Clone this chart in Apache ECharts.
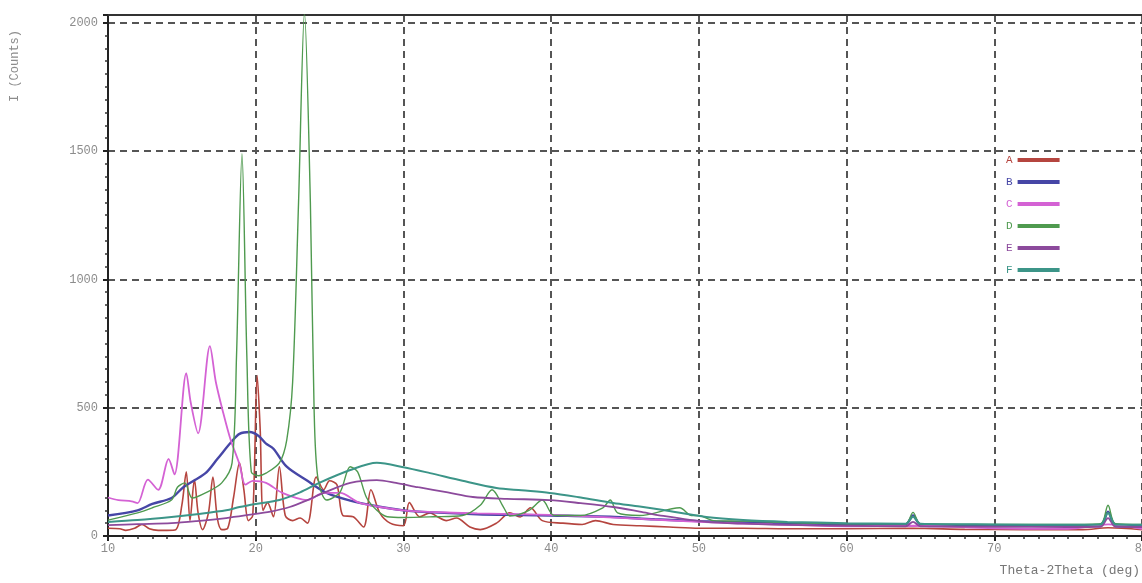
<!DOCTYPE html>
<html>
<head>
<meta charset="utf-8">
<title>XRD</title>
<script src="https://cdn.jsdelivr.net/npm/echarts@6/dist/echarts.min.js"></script>
<style>
  html, body { margin: 0; padding: 0; background: #fff; }
  #main { width: 1142px; height: 583px; }
</style>
</head>
<body>
<div id="main"></div>
<script>
// names of the samples
var seriesNames = ['A', 'B', 'C', 'D', 'E', 'F'];
var seriesColors = ['#b5453f', '#4646a6', '#d462d4', '#4f9a4f', '#8c4a9c', '#3c9588'];

// [2theta, counts]
var dataA = [[10,30],[10.8,28],[11.2,22],[11.8,30],[12.3,45],[12.8,28],[13.4,22],[14.0,22],[14.6,25],[15.0,120],[15.3,250],[15.55,60],[15.85,220],[16.1,90],[16.4,25],[16.8,90],[17.1,230],[17.4,70],[17.7,25],[18.1,30],[18.5,150],[18.9,285],[19.2,180],[19.5,60],[19.8,80],[20.1,625],[20.3,420],[20.5,100],[20.8,130],[21.2,75],[21.6,270],[22.0,80],[22.5,60],[23.0,70],[23.5,50],[24.1,230],[24.6,180],[25.0,215],[25.5,200],[25.9,80],[26.6,75],[27.3,35],[27.8,180],[28.4,90],[29.1,50],[30.0,40],[30.4,130],[31.1,75],[31.8,90],[32.3,75],[32.9,60],[33.6,70],[34.5,35],[35.2,25],[36.3,50],[37.2,90],[37.9,74],[38.6,110],[39.4,60],[40.8,50],[42.1,45],[43.0,60],[44.2,45],[46,40],[48,35],[50,30],[53,30],[56,28],[60,28],[64.5,30],[68,26],[72,25],[76,25],[77.7,32],[80,25]];
var dataB = [[10,80],[12,100],[13,125],[14.3,148],[15.1,190],[16.6,245],[17.4,300],[18.4,370],[18.9,398],[19.6,405],[20.2,390],[20.7,360],[21.2,340],[22.1,270],[23.5,215],[24.8,168],[26.4,138],[28,118],[30,100],[32,92],[35,85],[38,82],[40,80],[44,75],[47,65],[50,58],[55,50],[60,45],[64,45],[64.5,80],[65,45],[70,42],[75,40],[77.2,40],[77.7,95],[78.2,40],[80,38]];
var dataC = [[10,150],[10.7,140],[11.6,135],[12,128],[12.7,220],[13.4,180],[14.1,300],[14.5,240],[15.3,635],[15.6,520],[16.1,400],[16.9,740],[17.3,600],[17.8,480],[18.3,375],[18.9,280],[19.3,200],[19.8,215],[20.7,207],[21.8,168],[23.5,140],[24.6,168],[25.7,168],[27,130],[28.4,113],[30,100],[31.8,94],[35,88],[39.9,82],[45,70],[50,55],[55,45],[60,38],[64.5,40],[70,30],[75,28],[77.7,45],[80,28]];
var dataD = [[10,62],[12,90],[13,110],[14.3,140],[14.7,190],[15.2,207],[15.7,148],[16.6,168],[17.7,207],[18.4,285],[18.7,700],[19.07,1490],[19.4,700],[19.7,250],[20.2,235],[20.7,245],[21.6,285],[22.1,374],[22.5,600],[22.9,1300],[23.3,2040],[23.7,1300],[23.95,500],[24.2,230],[24.8,140],[25.7,170],[26.4,270],[26.9,250],[27.5,150],[28.2,100],[28.9,75],[30,72],[32,75],[34,80],[35.2,120],[36,180],[36.8,110],[37.2,78],[38.5,100],[39.4,140],[40.2,80],[42,80],[43.5,110],[44,140],[44.5,90],[46,80],[48.7,110],[49.5,80],[50,80],[51,60],[53,58],[56,52],[60,48],[64,48],[64.5,92],[65,48],[70,45],[75,45],[77.2,48],[77.7,120],[78.2,48],[80,45]];
var dataE = [[10,42],[12,46],[14.3,50],[16,58],[18,70],[19.5,82],[21,95],[22.3,113],[23.5,140],[24.6,168],[26.4,207],[28.2,218],[29.5,207],[31,190],[33,170],[34.7,152],[37,145],[39.9,140],[42,128],[44.2,113],[46,95],[47.6,78],[50.5,55],[53,48],[57,42],[60,40],[64,38],[64.5,55],[65,38],[70,36],[75,35],[77.2,36],[77.7,70],[78.2,36],[80,35]];
var dataF = [[10,55],[12,62],[14.3,74],[16,85],[18,100],[18.9,113],[20,125],[21.6,140],[23,170],[24.3,207],[26.4,257],[28.2,285],[30,268],[31.8,245],[34,215],[36.3,187],[38,178],[39.9,168],[42,150],[44.2,129],[46,115],[47.6,101],[50.5,74],[53,62],[56,55],[60,50],[64,48],[64.5,75],[65,48],[70,45],[75,44],[77.2,45],[77.7,90],[78.2,45],[80,44]];

var allData = [dataA, dataB, dataC, dataD, dataE, dataF];
var lineWidths = [1.6, 2.4, 1.8, 1.4, 1.8, 2];

var monoFont = '"Liberation Mono", "DejaVu Sans Mono", monospace';
var labelGray = '#8c8c8c';
var gridLine = { type: [7, 5], color: '#555', width: 2 };

var chart = echarts.init(document.getElementById('main'));

var seriesArray = [];
var legendData = [];
for (var i = 0; i < seriesNames.length; i++) {
    seriesArray.push({
        name: seriesNames[i],
        type: 'line',
        data: allData[i],
        smooth: 0.3,
        showSymbol: false,
        clip: true,
        lineStyle: { color: seriesColors[i], width: lineWidths[i] },
        itemStyle: { color: seriesColors[i] }
    });
    legendData.push({ name: seriesNames[i], textStyle: { color: seriesColors[i] } });
}

var option = {
    animation: false,
    backgroundColor: '#fff',
    grid: {
        left: 108, right: 0, top: 15, bottom: 47,
        outerBoundsMode: 'none',
        containLabel: false
    },
    legend: {
        orient: 'vertical',
        left: 1001,
        top: 149,
        align: 'right',
        icon: 'rect',
        itemWidth: 42,
        itemHeight: 4,
        itemGap: 10,
        textStyle: { fontFamily: monoFont, fontSize: 11, lineHeight: 12 },
        data: legendData
    },
    xAxis: [{
        type: 'value',
        min: 10, max: 80, interval: 10,
        axisLine: { lineStyle: { color: '#222', width: 2 } },
        axisTick: { length: 5, lineStyle: { color: '#222', width: 2 } },
        minorTick: { show: true, splitNumber: 10, length: 3, lineStyle: { color: '#333', width: 1.5 } },
        axisLabel: { color: labelGray, fontFamily: monoFont, fontSize: 12, margin: 7 },
        splitLine: { show: true, lineStyle: gridLine }
    }, {
        // plain frame line along the top
        type: 'value',
        position: 'top',
        min: 10, max: 80,
        axisLine: { show: true, lineStyle: { color: '#333', width: 2 } },
        axisTick: { show: false },
        axisLabel: { show: false },
        splitLine: { show: false }
    }],
    yAxis: {
        type: 'value',
        min: 0, max: 2030, interval: 500,
        axisLine: { show: true, lineStyle: { color: '#222', width: 2 } },
        axisTick: { show: true, length: 5, lineStyle: { color: '#222', width: 2 } },
        minorTick: { show: true, splitNumber: 10, length: 3, lineStyle: { color: '#333', width: 1.5 } },
        axisLabel: {
            color: labelGray, fontFamily: monoFont, fontSize: 12, margin: 10, showMaxLabel: false,
            formatter: function (v) { return String(v); }
        },
        splitLine: { show: true, lineStyle: gridLine }
    },
    graphic: [
        {
            type: 'text', x: 9, y: 102, rotation: Math.PI / 2,
            style: { text: 'I (Counts)', fill: labelGray, font: '12px ' + monoFont, textAlign: 'left', textVerticalAlign: 'top' }
        },
        {
            type: 'text', right: 2, top: 564,
            style: { text: 'Theta-2Theta (deg)', fill: '#777', font: '13px ' + monoFont }
        }
    ],
    series: seriesArray
};

chart.setOption(option);
</script>
</body>
</html>
